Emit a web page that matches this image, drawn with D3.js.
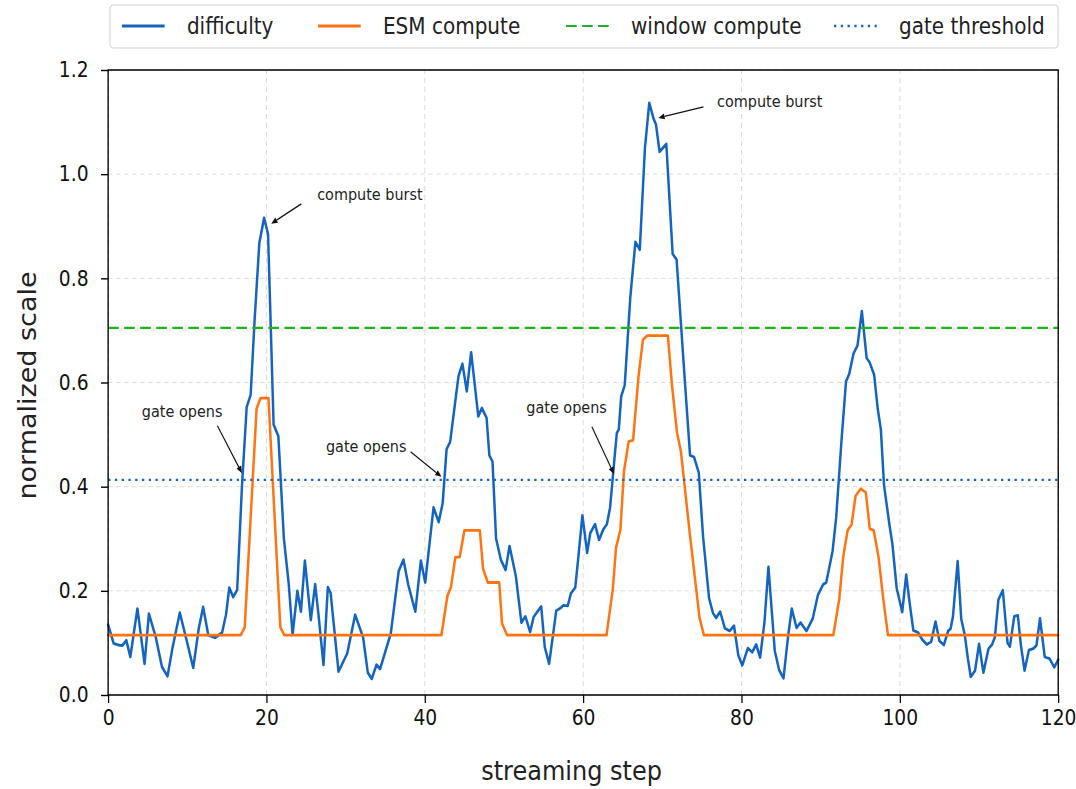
<!DOCTYPE html>
<html><head><meta charset="utf-8">
<script src="https://cdn.jsdelivr.net/npm/d3@7"></script>
<style>body{margin:0;background:#fff;} svg{display:block;font-family:"DejaVu Sans",sans-serif;}</style>
</head><body>
<svg id="chart" width="1076" height="789"></svg>
<script>
// ---------- data ----------
const diffSteps = [0,0.7,1.25,1.8,2.3,2.8,3.7,4.6,5.15,6.0,
6.8,7.5,8.1,9.05,9.9,10.75,11.45,12.0,12.65,13.5,
14.4,14.9,15.3,15.8,16.3,16.9,17.5,18.0,18.5,19.1,
19.7,20.2,20.9,21.5,22.2,22.8,23.3,23.9,24.35,24.85,
25.6,26.15,26.55,27.2,27.75,28.1,29.1,30.2,31.2,32.2,
32.8,33.3,33.9,34.35,35.7,36.7,37.3,37.9,38.8,39.5,
40.05,41.1,41.75,42.25,42.75,43.2,44.25,44.75,45.3,45.85,
46.75,47.2,47.8,48.15,48.55,49.0,49.6,50.2,50.7,51.5,
52.2,52.7,53.3,53.75,54.7,55.15,55.7,56.6,57.05,57.5,
58.05,58.45,59.0,59.4,59.9,60.5,60.9,61.5,62.0,62.55,
63.0,63.4,63.9,64.25,64.5,64.8,65.25,65.95,66.6,67.15,
67.8,68.35,68.9,69.2,69.65,70.5,71.3,71.8,72.9,73.5,
74.0,74.6,75.15,75.9,76.4,76.8,77.3,77.9,78.5,79.05,
79.6,80.1,80.8,81.35,81.85,82.35,82.9,83.4,84.2,84.75,
85.3,85.9,86.35,86.95,87.45,88.2,89.0,89.65,90.3,90.7,
91.5,91.95,92.65,93.2,93.6,94.15,94.65,95.2,95.8,96.2,
96.75,97.2,97.6,98.0,98.7,99.05,99.6,100.3,100.8,101.2,
101.7,102.3,102.8,103.4,103.95,104.5,105.0,105.55,106.1,106.4,
106.7,107.3,107.75,108.2,108.6,108.95,109.5,110.0,110.55,111.2,
111.65,112.0,112.45,113.0,113.6,113.9,114.45,114.9,115.3,115.75,
116.3,116.85,117.25,117.7,118.3,118.9,119.5,120.0];
const difficulty = [0.135,0.099,0.096,0.095,0.105,0.073,0.166,0.060,0.156,0.112,
0.054,0.036,0.088,0.158,0.106,0.052,0.128,0.169,0.115,0.110,
0.120,0.155,0.206,0.188,0.202,0.40,0.553,0.576,0.72,0.868,
0.916,0.885,0.519,0.497,0.30,0.215,0.116,0.200,0.160,0.258,
0.144,0.213,0.157,0.058,0.207,0.196,0.045,0.080,0.154,0.111,
0.043,0.031,0.058,0.050,0.118,0.238,0.260,0.212,0.160,0.258,
0.216,0.360,0.332,0.368,0.472,0.486,0.612,0.636,0.583,0.658,
0.535,0.551,0.532,0.460,0.448,0.30,0.260,0.240,0.286,0.228,
0.139,0.151,0.121,0.150,0.170,0.092,0.060,0.162,0.166,0.172,
0.171,0.195,0.206,0.266,0.345,0.273,0.311,0.328,0.298,0.318,
0.328,0.360,0.445,0.503,0.510,0.573,0.595,0.763,0.870,0.855,
1.050,1.137,1.106,1.095,1.043,1.058,0.847,0.836,0.590,0.460,
0.457,0.427,0.303,0.186,0.157,0.148,0.160,0.128,0.123,0.133,
0.076,0.057,0.090,0.082,0.097,0.072,0.140,0.246,0.085,0.048,
0.032,0.115,0.166,0.129,0.139,0.123,0.147,0.192,0.212,0.216,
0.276,0.340,0.493,0.602,0.616,0.656,0.671,0.737,0.647,0.638,
0.615,0.550,0.510,0.403,0.325,0.291,0.205,0.159,0.231,0.181,
0.124,0.120,0.107,0.097,0.102,0.141,0.104,0.096,0.123,0.127,
0.150,0.257,0.146,0.115,0.069,0.035,0.047,0.098,0.043,0.089,
0.097,0.111,0.183,0.201,0.100,0.093,0.151,0.153,0.094,0.047,
0.086,0.089,0.095,0.147,0.073,0.070,0.053,0.068];
const esmSteps = [0,16.75,17.25,18.75,19.25,20.25,21.75,22.25,
42.1,42.85,43.3,43.85,44.4,45.0,46.95,47.35,47.95,49.4,49.75,50.4,
62.95,63.75,64.15,64.7,65.15,65.75,66.3,67.0,67.55,68.1,70.7,71.2,71.85,72.35,73.5,74.7,75.25,
91.6,92.35,92.85,93.4,93.9,94.4,95.05,95.7,96.2,96.7,97.3,97.9,98.5,120];
const esmCompute = [0.115,0.115,0.13,0.55,0.57,0.57,0.13,0.115,
0.115,0.19,0.207,0.264,0.265,0.316,0.316,0.243,0.216,0.216,0.137,0.115,
0.115,0.204,0.283,0.317,0.429,0.487,0.489,0.613,0.682,0.690,0.690,0.598,0.504,0.467,0.305,0.148,0.115,
0.115,0.185,0.266,0.316,0.327,0.382,0.396,0.389,0.319,0.316,0.266,0.185,0.115,0.115];
const windowCompute = 0.705;
const gateThreshold = 0.413;
const xTicks = [0,20,40,60,80,100,120];
const yTicks = [0,0.2,0.4,0.6,0.8,1.0,1.2];
const seriesNames = ["difficulty","ESM compute","window compute","gate threshold"];
const annLabels = ["compute burst","compute burst","gate opens","gate opens","gate opens"];
const annTextX = [26.4,76.9,9.35,32.6,57.9];
const annTextY = [0.96,1.139,0.543,0.476,0.551];
const annAnchor = ["start","start","middle","middle","middle"];
const annFromX = [24.4,75.2,13.8,38.2,61.1];
const annFromY = [0.943,1.129,0.517,0.467,0.515];
const annToX = [20.6,69.5,16.9,42.1,63.9];
const annToY = [0.905,1.108,0.426,0.419,0.424];

// ---------- drawing ----------
const SX = 0.89;
const svg = d3.select("#chart");
const g = svg.append("g").attr("transform", `scale(${SX},1)`);
const x = d3.scaleLinear().domain([0,120]).range([121.5, 1189]);
const y = d3.scaleLinear().domain([0,1.2]).range([695, 70]);
const C = {blue:"#1565c0", orange:"#ff7410", green:"#1fb21f", grid:"#d6d6d6"};

// grid
g.append("g").selectAll("line").data(xTicks).join("line")
  .attr("x1", d=>x(d)).attr("x2", d=>x(d)).attr("y1", y(0)).attr("y2", y(1.2))
  .attr("stroke", C.grid).attr("stroke-width", 0.9).attr("stroke-dasharray", "5,4");
g.append("g").selectAll("line").data(yTicks).join("line")
  .attr("x1", x(0)).attr("x2", x(120)).attr("y1", d=>y(d)).attr("y2", d=>y(d))
  .attr("stroke", C.grid).attr("stroke-width", 0.9).attr("stroke-dasharray", "5,4");

// axes
const xAxis = g.append("g").attr("transform", `translate(0,${y(0)})`)
  .call(d3.axisBottom(x).tickValues(xTicks).tickFormat(d3.format("d")).tickSize(8).tickPadding(7));
const yAxis = g.append("g").attr("transform", `translate(${x(0)},0)`)
  .call(d3.axisLeft(y).tickValues(yTicks).tickFormat(d3.format(".1f")).tickSize(8).tickPadding(14));
[xAxis, yAxis].forEach(a => {
  a.select(".domain").remove();
  a.selectAll(".tick line").attr("stroke", "#000").attr("stroke-width", 1.4);
  a.selectAll(".tick text").attr("fill", "#111").style("font-size", "21px").style("font-family", "DejaVu Sans");
});

// lines
const line = d3.line().x(d=>x(d[0])).y(d=>y(d[1]));
const diffData = diffSteps.map((s,i)=>[s, difficulty[i]]);
const esmData = esmSteps.map((s,i)=>[s, esmCompute[i]]);
g.append("path").datum(diffData).attr("d", line).attr("fill","none")
  .attr("stroke", C.blue).attr("stroke-width", 2.8).attr("stroke-linejoin","round").attr("stroke-linecap","round");
g.append("path").datum(esmData).attr("d", line).attr("fill","none")
  .attr("stroke", C.orange).attr("stroke-width", 2.8).attr("stroke-linejoin","round").attr("stroke-linecap","round");
g.append("line").attr("x1", x(0)).attr("x2", x(120)).attr("y1", y(windowCompute)).attr("y2", y(windowCompute))
  .attr("stroke", C.green).attr("stroke-width", 2.2).attr("stroke-dasharray", "12,6");
g.append("line").attr("x1", x(0)).attr("x2", x(120)).attr("y1", y(gateThreshold)).attr("y2", y(gateThreshold))
  .attr("stroke", C.blue).attr("stroke-width", 2.4).attr("stroke-dasharray", "2.6,5");

// frame
g.append("rect").attr("x", x(0)).attr("y", y(1.2)).attr("width", x(120)-x(0)).attr("height", y(0)-y(1.2))
  .attr("fill","none").attr("stroke","#000").attr("stroke-width", 1.5);

// annotations
annLabels.forEach((lab,i) => {
  const x0 = x(annFromX[i]), y0 = y(annFromY[i]), x1 = x(annToX[i]), y1 = y(annToY[i]);
  const ang = Math.atan2(y1-y0, x1-x0), L = 7, w = 3;
  const bx = x1 - L*Math.cos(ang), by = y1 - L*Math.sin(ang);
  g.append("line").attr("x1", x0).attr("y1", y0).attr("x2", bx).attr("y2", by)
    .attr("stroke","#111").attr("stroke-width", 1.3);
  g.append("path").attr("d", `M${x1},${y1}L${bx + w*Math.sin(ang)},${by - w*Math.cos(ang)}L${bx - w*Math.sin(ang)},${by + w*Math.cos(ang)}Z`)
    .attr("fill","#111");
  g.append("text").attr("x", x(annTextX[i])).attr("y", y(annTextY[i]))
    .attr("text-anchor", annAnchor[i]).attr("dominant-baseline","central")
    .style("font-size","16.2px").attr("fill","#222").text(lab);
});

// axis labels
g.append("text").attr("x", (x(0)+x(120))/2 - 13).attr("y", 771).attr("text-anchor","middle")
  .attr("dominant-baseline","central").style("font-size","27px").attr("fill","#222").text("streaming step");
g.append("text").attr("transform", `translate(31,${(y(0)+y(1.2))/2 + 3}) rotate(-90)`).attr("text-anchor","middle")
  .attr("dominant-baseline","central").style("font-size","27px").attr("fill","#222").text("normalized scale");

// legend
const lg = g.append("g");
lg.append("rect").attr("x", 123.6).attr("y", 5).attr("width", 1188.8-123.6).attr("height", 43).attr("rx", 4)
  .attr("fill","#fff").attr("stroke","#cfcfcf").attr("stroke-width", 1.2);
const legStarts = [137, 357.3, 636, 937.1];
const legText = [73, 73, 73, 73];
const legStyles = [
  {c:C.blue, dash:null, w:2.8}, {c:C.orange, dash:null, w:2.8},
  {c:C.green, dash:"12,6", w:2.2}, {c:C.blue, dash:"2.6,5", w:2.4}];
seriesNames.forEach((nm,i) => {
  const s = legStyles[i];
  lg.append("line").attr("x1", legStarts[i]).attr("x2", legStarts[i]+48).attr("y1", 26).attr("y2", 26)
    .attr("stroke", s.c).attr("stroke-width", s.w).attr("stroke-dasharray", s.dash);
  lg.append("text").attr("x", legStarts[i]+legText[i]).attr("y", 26).attr("dominant-baseline","central")
    .style("font-size","22.5px").attr("fill","#222").text(nm);
});
</script>
</body></html>
